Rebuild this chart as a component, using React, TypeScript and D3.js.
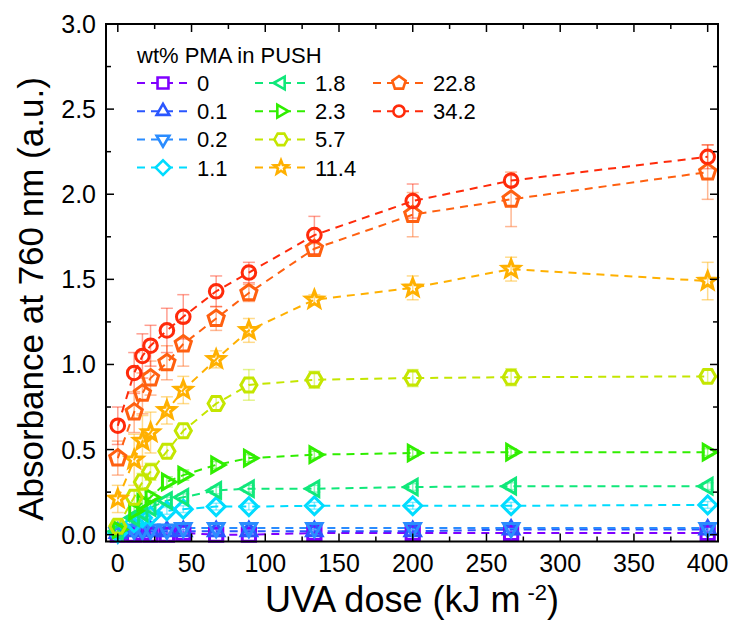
import React from 'react';
import * as d3 from 'd3';

// UVA dose (kJ m-2)
const doses = [0, 11.1, 16.7, 22.2, 33.3, 44.4, 66.7, 88.9, 133.3, 200, 266.7, 400];

// wt% PMA in PUSH
const labels = ['0', '0.1', '0.2', '1.1', '1.8', '2.3', '5.7', '11.4', '22.8', '34.2'];
const colors = ['#8000ff', '#2a56ff', '#2a8cff', '#00dcff', '#10e87a', '#30ee00', '#c4e600', '#ffb000', '#ff6010', '#ff2a0a'];
const shapes = ['square', 'up', 'down', 'diamond', 'left', 'right', 'hexagon', 'star', 'pentagon', 'circle'];

const abs0 = [0.0, 0.0, 0.01, 0.0, 0.0, 0.01, 0.0, 0.0, 0.01, 0.01, 0.01, 0.01];
const abs01 = [0.01, 0.02, 0.02, 0.02, 0.02, 0.02, 0.02, 0.02, 0.02, 0.02, 0.03, 0.03];
const abs02 = [0.01, 0.03, 0.03, 0.03, 0.03, 0.04, 0.04, 0.04, 0.04, 0.04, 0.04, 0.04];
const abs11 = [0.01, 0.07, 0.1, 0.11, 0.14, 0.15, 0.165, 0.165, 0.17, 0.17, 0.17, 0.175];
const abs18 = [0.02, 0.1, 0.13, 0.16, 0.2, 0.22, 0.26, 0.27, 0.27, 0.28, 0.285, 0.285];
const abs23 = [0.03, 0.14, 0.19, 0.22, 0.31, 0.35, 0.41, 0.45, 0.47, 0.48, 0.485, 0.485];
const abs57 = [0.05, 0.22, 0.31, 0.37, 0.49, 0.61, 0.77, 0.88, 0.91, 0.92, 0.925, 0.93];
const abs114 = [0.21, 0.44, 0.55, 0.6, 0.73, 0.85, 1.03, 1.2, 1.38, 1.45, 1.56, 1.49];
const abs228 = [0.45, 0.72, 0.83, 0.92, 1.01, 1.12, 1.27, 1.42, 1.68, 1.88, 1.97, 2.13];
const abs342 = [0.64, 0.95, 1.05, 1.11, 1.2, 1.28, 1.43, 1.54, 1.76, 1.96, 2.08, 2.22];

const err0 = [0.01, 0.01, 0.01, 0.01, 0.01, 0.01, 0.01, 0.01, 0.01, 0.01, 0.01, 0.01];
const err01 = [0.01, 0.01, 0.01, 0.01, 0.01, 0.01, 0.01, 0.01, 0.01, 0.01, 0.01, 0.01];
const err02 = [0.01, 0.01, 0.01, 0.01, 0.01, 0.01, 0.01, 0.01, 0.01, 0.01, 0.01, 0.01];
const err11 = [0.01, 0.02, 0.02, 0.02, 0.02, 0.02, 0.02, 0.02, 0.02, 0.02, 0.02, 0.02];
const err18 = [0.02, 0.02, 0.02, 0.02, 0.02, 0.02, 0.02, 0.02, 0.02, 0.02, 0.02, 0.02];
const err23 = [0.02, 0.03, 0.03, 0.03, 0.03, 0.03, 0.02, 0.02, 0.02, 0.02, 0.02, 0.02];
const err57 = [0.03, 0.04, 0.05, 0.05, 0.04, 0.04, 0.04, 0.09, 0.05, 0.05, 0.05, 0.04];
const err114 = [0.08, 0.15, 0.15, 0.12, 0.08, 0.08, 0.05, 0.07, 0.03, 0.07, 0.07, 0.11];
const err228 = [0.1, 0.12, 0.12, 0.1, 0.1, 0.13, 0.07, 0.05, 0.03, 0.13, 0.16, 0.16];
const err342 = [0.11, 0.12, 0.13, 0.12, 0.13, 0.13, 0.09, 0.06, 0.11, 0.1, 0.03, 0.07];

const values = [abs0, abs01, abs02, abs11, abs18, abs23, abs57, abs114, abs228, abs342];
const errors = [err0, err01, err02, err11, err18, err23, err57, err114, err228, err342];

const xTicks = [0, 50, 100, 150, 200, 250, 300, 350, 400];
const yTicks = [0, 0.5, 1.0, 1.5, 2.0, 2.5, 3.0];

const W = 735;
const H = 628;
const left = 106, right = 718, top = 24, bottom = 541.5;
const FONT = '"Liberation Sans", Arial, sans-serif';

const x = d3.scaleLinear().domain([-8, 407]).range([left, right]);
const y = d3.scaleLinear().domain([-0.04, 3.0]).range([bottom, top]);

// marker outline paths, centred on 0,0
function poly(n: number, r: number, start: number) {
  const pts = d3.range(n).map(i => {
    const a = start + (i * 2 * Math.PI) / n;
    return [r * Math.cos(a), r * Math.sin(a)];
  });
  return 'M' + pts.map(p => p[0].toFixed(2) + ',' + p[1].toFixed(2)).join('L') + 'Z';
}

function markerPath(shape: string, r: number) {
  const deg = Math.PI / 180;
  switch (shape) {
    case 'square': {
      const s = r * 0.78;
      return `M${-s},${-s}H${s}V${s}H${-s}Z`;
    }
    case 'up': return poly(3, r * 1.05, -90 * deg);
    case 'down': return poly(3, r * 1.05, 90 * deg);
    case 'left': return poly(3, r * 1.05, 180 * deg);
    case 'right': return poly(3, r * 1.05, 0);
    case 'diamond': return poly(4, r * 1.05, 0);
    case 'hexagon': return poly(6, r * 0.95, 0);
    case 'pentagon': return poly(5, r, -90 * deg);
    case 'star': {
      const pts = d3.range(10).map(i => {
        const rr = i % 2 === 0 ? r * 1.05 : r * 0.45;
        const a = -90 * deg + (i * Math.PI) / 5;
        return [rr * Math.cos(a), rr * Math.sin(a)];
      });
      return 'M' + pts.map(p => p[0].toFixed(2) + ',' + p[1].toFixed(2)).join('L') + 'Z';
    }
    default:
      return d3.arc()({ innerRadius: 0, outerRadius: r * 0.8, startAngle: 0, endAngle: 2 * Math.PI } as any) as string;
  }
}

const App = () => {
  const line = d3.line<number>()
    .x((_, i) => x(doses[i]))
    .y(d => y(d));

  const xMinor = d3.range(0, 401, 25);
  const yMinor = d3.range(0, 3.01, 0.25);

  const legendX = [137, 255, 373];
  const legendY0 = 83;
  const legendDy = 28.2;

  return (
    <svg width={W} height={H} style={{ position: 'absolute', left: 0, top: 0, background: '#fff' }} fontFamily={FONT}>
      {/* error bars */}
      {values.map((vals, s) => (
        <g key={'e' + s} stroke={colors[s]} strokeOpacity={0.45} strokeWidth={1.5}>
          {vals.map((v, i) => {
            const cx = x(doses[i]);
            const y1 = y(v + errors[s][i]);
            const y2 = y(v - errors[s][i]);
            return (
              <g key={i}>
                <line x1={cx} x2={cx} y1={y1} y2={y2} />
                <line x1={cx - 6} x2={cx + 6} y1={y1} y2={y1} />
                <line x1={cx - 6} x2={cx + 6} y1={y2} y2={y2} />
              </g>
            );
          })}
        </g>
      ))}

      {/* dashed lines */}
      {values.map((vals, s) => (
        <path key={'l' + s} d={line(vals) || ''} fill="none" stroke={colors[s]} strokeWidth={2} strokeDasharray="8,6" />
      ))}

      {/* markers */}
      {values.map((vals, s) => (
        <g key={'m' + s}>
          {vals.map((v, i) => (
            <path key={i} d={markerPath(shapes[s], 8.5)} transform={`translate(${x(doses[i])},${y(v)})`}
              fill="none" stroke={colors[s]} strokeWidth={3} strokeLinejoin="miter" />
          ))}
        </g>
      ))}

      {/* frame */}
      <rect x={left} y={top} width={right - left} height={bottom - top} fill="none" stroke="#000" strokeWidth={2} />

      {/* x ticks */}
      {xMinor.map(t => {
        const major = t % 50 === 0;
        const len = major ? 8 : 5;
        return (
          <g key={'xt' + t} stroke="#000" strokeWidth={1.5}>
            <line x1={x(t)} x2={x(t)} y1={bottom} y2={bottom - len} />
            <line x1={x(t)} x2={x(t)} y1={top} y2={top + len} />
          </g>
        );
      })}
      {xTicks.map(t => (
        <text key={'xl' + t} x={x(t)} y={572} textAnchor="middle" fontSize={25}>{t}</text>
      ))}

      {/* y ticks */}
      {yMinor.map((t, k) => {
        const major = k % 2 === 0;
        const len = major ? 8 : 5;
        return (
          <g key={'yt' + k} stroke="#000" strokeWidth={1.5}>
            <line x1={left} x2={left + len} y1={y(t)} y2={y(t)} />
            <line x1={right} x2={right - len} y1={y(t)} y2={y(t)} />
          </g>
        );
      })}
      {yTicks.map(t => (
        <text key={'yl' + t} x={96} y={y(t) + 9} textAnchor="end" fontSize={25}>{t.toFixed(1)}</text>
      ))}

      {/* axis titles */}
      <text x={(left + right) / 2} y={612} textAnchor="middle" fontSize={36}>
        UVA dose (kJ m<tspan dx={7} dy={-12} fontSize={22}>-2</tspan><tspan dy={12}>)</tspan>
      </text>
      <text transform={`translate(43,299) rotate(-90)`} textAnchor="middle" fontSize={35}>
        Absorbance at 760 nm (a.u.)
      </text>

      {/* legend */}
      <text x={137} y={63} fontSize={22}>wt% PMA in PUSH</text>
      {labels.map((lab, s) => {
        const col = Math.floor(s / 4);
        const row = s % 4;
        const lx = legendX[col];
        const ly = legendY0 + row * legendDy;
        return (
          <g key={'lg' + s}>
            <line x1={lx} x2={lx + 54} y1={ly} y2={ly} stroke={colors[s]} strokeWidth={2} strokeDasharray="8,6" />
            <path d={markerPath(shapes[s], 7)} transform={`translate(${lx + 26},${ly})`} fill="#fff" stroke={colors[s]} strokeWidth={2.6} />
            <text x={lx + 60} y={ly + 8} fontSize={22}>{lab}</text>
          </g>
        );
      })}
    </svg>
  );
};

export default App;
